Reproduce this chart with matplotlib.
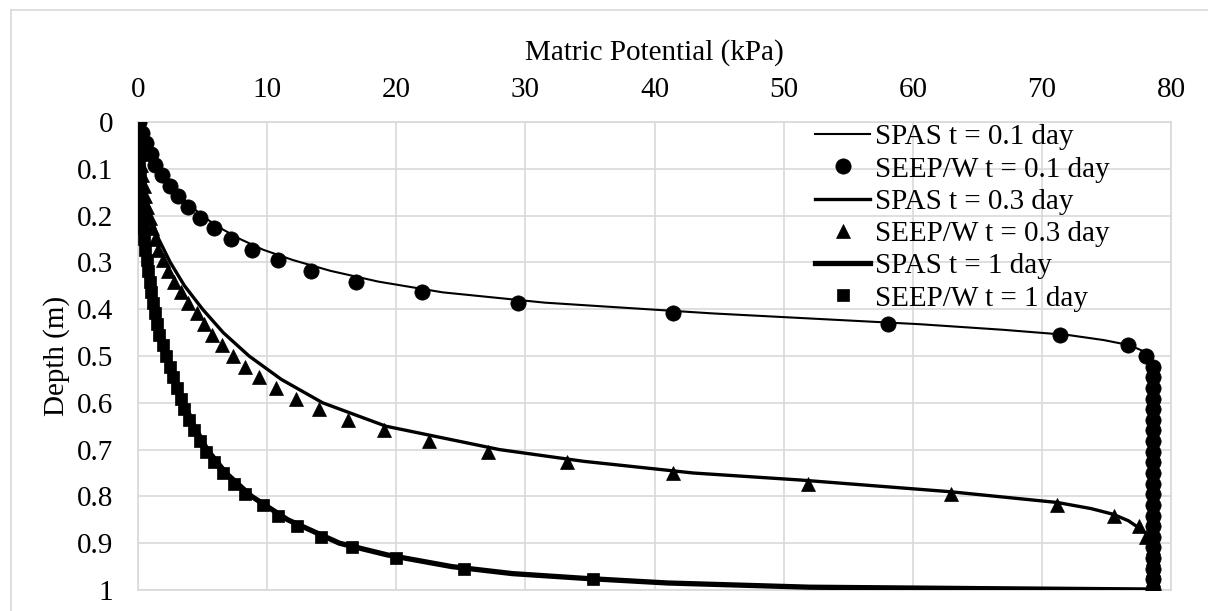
import numpy as np
import matplotlib.pyplot as plt
from matplotlib.ticker import FuncFormatter

plt.rcParams['font.family'] = ['Liberation Serif', 'DejaVu Serif']

# depth grid of the SEEP/W nodes (m)
seep_depth = [0, 0.023, 0.045, 0.068, 0.091, 0.114, 0.136, 0.159, 0.182, 0.205,
              0.227, 0.25, 0.273, 0.295, 0.318, 0.341, 0.364, 0.386, 0.409, 0.432,
              0.455, 0.477, 0.5, 0.523, 0.545, 0.568, 0.591, 0.614, 0.636, 0.659,
              0.682, 0.705, 0.727, 0.75, 0.773, 0.795, 0.818, 0.841, 0.864, 0.886,
              0.909, 0.932, 0.955, 0.977, 1.0]

# SEEP/W matric potential (kPa)
seep_01 = [0.1, 0.3, 0.6, 1.0, 1.32, 1.83, 2.48, 3.12, 3.9, 4.8,
           5.89, 7.18, 8.8, 10.87, 13.4, 16.9, 21.97, 29.46, 41.4, 58.1,
           71.4, 76.7, 78.1, 78.6, 78.6, 78.6, 78.6, 78.6, 78.6, 78.6,
           78.6, 78.6, 78.6, 78.6, 78.6, 78.6, 78.6, 78.6, 78.6, 78.6,
           78.6, 78.6, 78.6, 78.6, 78.6]
seep_03 = [0.02, 0.05, 0.1, 0.16, 0.24, 0.33, 0.44, 0.57, 0.72, 0.9,
           1.1, 1.32, 1.57, 1.9, 2.3, 2.8, 3.35, 3.9, 4.55, 5.1,
           5.76, 6.48, 7.38, 8.29, 9.4, 10.69, 12.24, 14.04, 16.29, 19.08,
           22.56, 27.13, 33.2, 41.47, 51.9, 62.97, 71.2, 75.6, 77.5, 78.1,
           78.6, 78.6, 78.6, 78.6, 78.6]
seep_1 = [0, 0.015, 0.035, 0.06, 0.09, 0.13, 0.18, 0.23, 0.29, 0.35,
          0.42, 0.5, 0.58, 0.68, 0.78, 0.9, 1.02, 1.15, 1.3, 1.45,
          1.65, 1.9, 2.2, 2.45, 2.7, 3.0, 3.3, 3.6, 3.95, 4.35,
          4.8, 5.3, 5.9, 6.6, 7.4, 8.29, 9.71, 10.87, 12.29, 14.15,
          16.6, 19.98, 25.25, 35.2, 78.6]

# SPAS curves
spas01_depth = [0, 0.023, 0.045, 0.068, 0.091, 0.114, 0.136, 0.159, 0.182, 0.205,
                0.227, 0.25, 0.273, 0.295, 0.318, 0.341, 0.364, 0.386, 0.409, 0.432,
                0.444, 0.455, 0.466, 0.477, 0.489, 0.5, 0.512, 0.523, 1.0]
spas01_x = [0, 0.35, 0.7, 1.1, 1.5, 2.0, 2.65, 3.35, 4.2, 5.2,
            6.4, 7.9, 9.7, 12.0, 14.9, 18.6, 23.6, 31.5, 44.5, 60.5,
            67.0, 72.0, 74.8, 76.8, 77.8, 78.2, 78.5, 78.6, 78.6]

spas03_depth = [0, 0.05, 0.1, 0.15, 0.2, 0.25, 0.3, 0.35, 0.4, 0.45,
                0.5, 0.55, 0.6, 0.65, 0.7, 0.725, 0.75, 0.765, 0.79, 0.813,
                0.826, 0.838, 0.852, 0.867, 0.88, 0.895, 0.92, 1.0]
spas03_x = [0, 0.15, 0.35, 0.6, 0.95, 1.6, 2.5, 3.6, 5.0, 6.6,
            8.6, 11.1, 14.3, 19.2, 28.0, 34.5, 43.0, 51.3, 62.9, 71.2,
            73.8, 75.5, 76.7, 77.5, 78.1, 78.4, 78.6, 78.6]

spas1_depth = [0, 0.1, 0.2, 0.3, 0.4, 0.5, 0.55, 0.6, 0.65, 0.7,
               0.75, 0.8, 0.85, 0.9, 0.925, 0.95, 0.965, 0.975, 0.985, 0.994,
               0.997, 1.0]
spas1_x = [0, 0.1, 0.3, 0.65, 1.3, 2.3, 2.85, 3.55, 4.35, 5.35,
           6.8, 8.8, 11.6, 15.6, 19.3, 24.3, 29.0, 34.5, 41, 52,
           65, 78.6]

W, H = 1208, 611
fig = plt.figure(figsize=(W/100, H/100), dpi=100)
grid_c = '#d9d9d9'
fs = 21

# outer chart border (cut at right/bottom edge)
fig.add_artist(plt.Line2D([11/W, 1], [1-10/H, 1-10/H], color=grid_c, lw=1.2))
fig.add_artist(plt.Line2D([11/W, 11/W], [0, 1-10/H], color=grid_c, lw=1.2))

ax = fig.add_axes([138/W, 1-590/H, (1171-138)/W, (590-122)/H])

ax.plot(spas01_x, spas01_depth, 'k-', lw=1.5, label='SPAS t = 0.1 day', zorder=3)
ax.plot(seep_01, seep_depth, 'ko', ms=11, mew=0.5, ls='none', label='SEEP/W t = 0.1 day', zorder=4)
ax.plot(spas03_x, spas03_depth, 'k-', lw=2.4, label='SPAS t = 0.3 day', zorder=3)
ax.plot(seep_03, seep_depth, 'k^', ms=9.5, mew=0.5, ls='none', label='SEEP/W t = 0.3 day', zorder=4)
ax.plot(spas1_x, spas1_depth, 'k-', lw=3.8, label='SPAS t = 1 day', zorder=3)
ax.plot(seep_1, seep_depth, 'ks', ms=9, mew=0.5, ls='none', label='SEEP/W t = 1 day', zorder=4)

ax.set_xlim(0, 80)
ax.set_ylim(1, 0)
ax.set_xticks(np.arange(0, 81, 10))
ax.set_yticks(np.arange(0, 1.01, 0.1))
ax.yaxis.set_major_formatter(FuncFormatter(lambda v, p: '%g' % round(v, 1)))
ax.xaxis.tick_top()
ax.xaxis.set_label_position('top')
ax.tick_params(length=0, labelsize=fs, colors='black')
ax.tick_params(axis='x', pad=14)
ax.tick_params(axis='y', pad=18)
ax.grid(True, color=grid_c, lw=1.2)
ax.set_axisbelow(True)
for s in ax.spines.values():
    s.set_color(grid_c)
    s.set_linewidth(1.2)

ax.set_xlabel('Matric Potential (kPa)', fontsize=fs, labelpad=12)
ax.set_ylabel('Depth (m)', fontsize=fs, labelpad=5)

ax.legend(loc='upper left', bbox_to_anchor=(815/W, 1-124/H), bbox_transform=fig.transFigure,
          frameon=False, fontsize=fs, handlelength=1.9, handletextpad=0.15,
          labelspacing=0.2, borderpad=0, borderaxespad=0, numpoints=1)

plt.savefig('out.png', dpi=100)
